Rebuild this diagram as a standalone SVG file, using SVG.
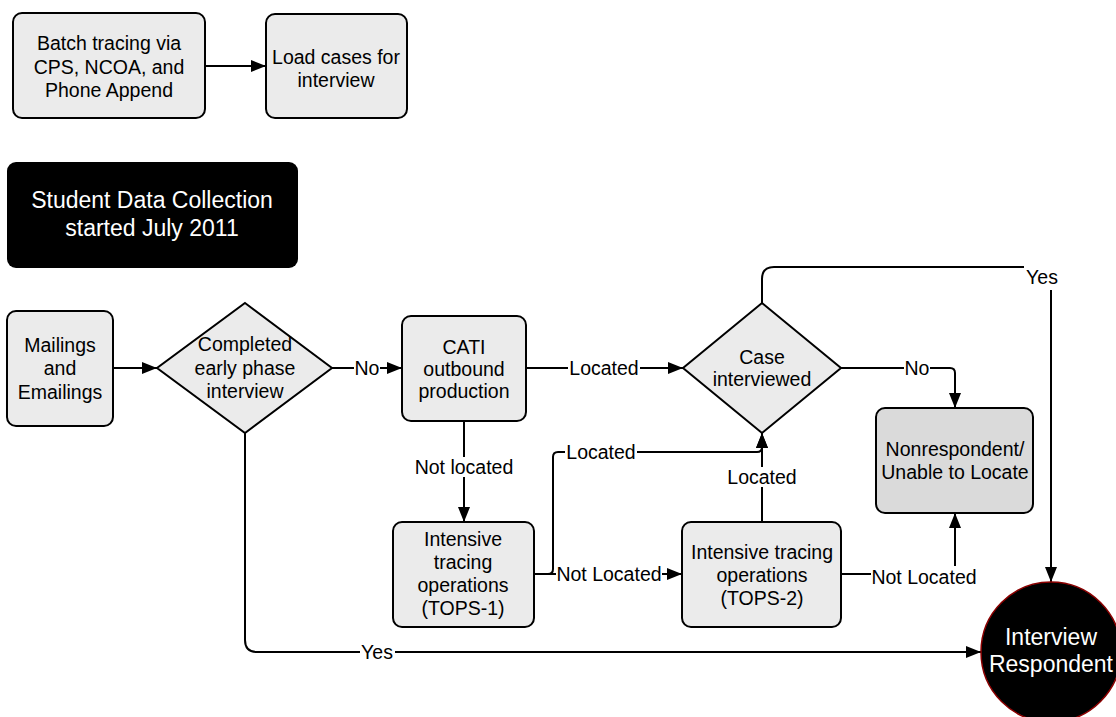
<svg xmlns="http://www.w3.org/2000/svg" width="1116" height="717" viewBox="0 0 1116 717">
<style>
.n{fill:#ebebeb;stroke:#000;stroke-width:2}
.d{fill:#dadada;stroke:#000;stroke-width:2}
.t{font-family:"Liberation Sans",Arial,sans-serif;font-size:19.5px;fill:#000;text-anchor:middle;dominant-baseline:central}
.w{font-family:"Liberation Sans",Arial,sans-serif;font-size:23px;fill:#fff;text-anchor:middle;dominant-baseline:central}
.c{fill:none;stroke:#000;stroke-width:2}
.bg{fill:#fff}
</style>
<defs>
<marker id="ah" markerUnits="userSpaceOnUse" markerWidth="15" markerHeight="12" refX="15" refY="6" orient="auto">
<path d="M0,0 L15,6 L0,12 z" fill="#000"/>
</marker>
</defs>
<rect width="1116" height="717" fill="#fff"/>
<g id="connectors">
<path class="c" d="M205 66 H266" marker-end="url(#ah)"/>
<path class="c" d="M113 368 H157" marker-end="url(#ah)"/>
<path class="c" d="M332 368 H402" marker-end="url(#ah)"/>
<path class="c" d="M526 368 H683" marker-end="url(#ah)"/>
<path class="c" d="M841 368 H950 Q955 368 955 373 V408" marker-end="url(#ah)"/>
<path class="c" d="M762 303 V279 Q762 267 774 267 H1039 Q1051 267 1051 279 V582" marker-end="url(#ah)"/>
<path class="c" d="M464 421 V522" marker-end="url(#ah)"/>
<path class="c" d="M534 574 H548 Q553 574 553 569 V457 Q553 452 558 452 H757 Q762 452 762 447 V433" marker-end="url(#ah)"/>
<path class="c" d="M534 574 H682" marker-end="url(#ah)"/>
<path class="c" d="M762 522 V433" marker-end="url(#ah)"/>
<path class="c" d="M841 574 H950 Q955 574 955 569 V513" marker-end="url(#ah)"/>
<path class="c" d="M245 433 V640 Q245 652 257 652 H981" marker-end="url(#ah)"/>
<rect class="bg" x="354" y="358" width="26" height="20"/><text class="t" x="367" y="368">No</text>
<rect class="bg" x="568" y="358" width="72" height="20"/><text class="t" x="604" y="368">Located</text>
<rect class="bg" x="904" y="358" width="26" height="20"/><text class="t" x="917" y="368">No</text>
<rect class="bg" x="1024" y="266" width="37" height="24"/><text class="t" x="1042" y="277">Yes</text>
<rect class="bg" x="414" y="457" width="100" height="20"/><text class="t" x="464" y="467">Not located</text>
<rect class="bg" x="565" y="442" width="72" height="20"/><text class="t" x="601" y="452">Located</text>
<rect class="bg" x="726" y="467" width="72" height="20"/><text class="t" x="762" y="477">Located</text>
<rect class="bg" x="556" y="564" width="106" height="20"/><text class="t" x="609" y="574">Not Located</text>
<rect class="bg" x="871" y="566" width="106" height="20"/><text class="t" x="924" y="577">Not Located</text>
<rect class="bg" x="360" y="642" width="35" height="20"/><text class="t" x="377" y="652">Yes</text>
</g>
<g id="batch"><rect class="n" x="13" y="13" width="192" height="105" rx="9"/>
<text class="t" x="109" y="43">Batch tracing via</text><text class="t" x="109" y="66.5">CPS, NCOA, and</text><text class="t" x="109" y="90">Phone Append</text></g>
<g id="load"><rect class="n" x="266" y="14" width="141" height="104" rx="9"/>
<text class="t" x="336" y="57">Load cases for</text><text class="t" x="336" y="80">interview</text></g>
<g id="start"><rect x="7" y="162" width="291" height="106" rx="9" fill="#000"/>
<text class="w" x="152" y="200">Student Data Collection</text><text class="w" x="152" y="228">started July 2011</text></g>
<g id="mailings"><rect class="n" x="7" y="311" width="106" height="115" rx="9"/>
<text class="t" x="60" y="345">Mailings</text><text class="t" x="60" y="368">and</text><text class="t" x="60" y="392">Emailings</text></g>
<g id="completed"><polygon class="n" points="245,303 332,368 245,433 157,368"/>
<text class="t" x="245" y="344">Completed</text><text class="t" x="245" y="368">early phase</text><text class="t" x="245" y="391">interview</text></g>
<g id="cati"><rect class="n" x="402" y="316" width="124" height="105" rx="9"/>
<text class="t" x="464" y="347">CATI</text><text class="t" x="464" y="369">outbound</text><text class="t" x="464" y="391">production</text></g>
<g id="case"><polygon class="n" points="762,303 841,368 762,433 683,368"/>
<text class="t" x="762" y="357">Case</text><text class="t" x="762" y="379">interviewed</text></g>
<g id="nonrespondent"><rect class="d" x="876" y="408" width="157" height="105" rx="9"/>
<text class="t" x="955" y="449">Nonrespondent/</text><text class="t" x="955" y="472">Unable to Locate</text></g>
<g id="tops1"><rect class="n" x="393" y="522" width="141" height="105" rx="9"/>
<text class="t" x="463" y="539">Intensive</text><text class="t" x="463" y="562">tracing</text><text class="t" x="463" y="585">operations</text><text class="t" x="463" y="608">(TOPS-1)</text></g>
<g id="tops2"><rect class="n" x="682" y="522" width="159" height="105" rx="9"/>
<text class="t" x="762" y="552">Intensive tracing</text><text class="t" x="762" y="575">operations</text><text class="t" x="762" y="598">(TOPS-2)</text></g>
<g id="respondent"><circle cx="1051" cy="652" r="70" fill="#000" stroke="#8b0000" stroke-width="1.5"/>
<text class="w" x="1051" y="637">Interview</text><text class="w" x="1051" y="664">Respondent</text></g>
</svg>
